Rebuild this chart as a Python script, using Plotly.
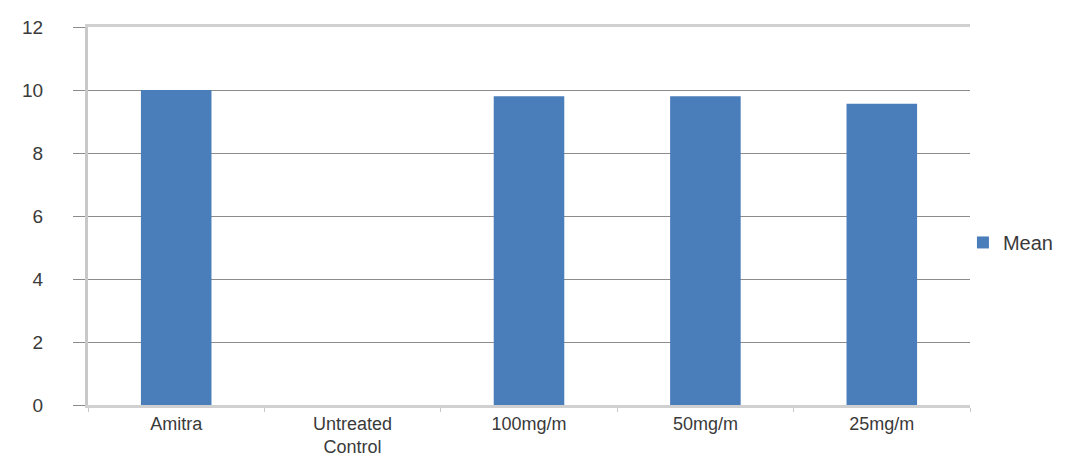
import plotly.graph_objects as go

categories = ["Amitra", "Untreated<br>Control", "100mg/m", "50mg/m", "25mg/m"]
mean_values = [10.0, 0.0, 9.8, 9.8, 9.56]
y_ticks = [0, 2, 4, 6, 8, 10, 12]

fig = go.Figure()
fig.add_trace(go.Bar(
    x=categories, y=mean_values, name="Mean",
    marker=dict(color="#4a7ebb", line=dict(width=0)),
    showlegend=True,
))

fig.update_layout(
    width=1078, height=457,
    margin=dict(l=88, r=108, t=27, b=52),
    paper_bgcolor="white", plot_bgcolor="white",
    font=dict(family="Liberation Sans, Arial, sans-serif", size=19, color="#3a3a3a"),
    bargap=0.6,
    showlegend=True,
    legend=dict(x=0.992, y=0.43, xanchor="left", yanchor="middle",
                font=dict(size=20, color="#3a3a3a"), itemwidth=30,
                bgcolor="rgba(0,0,0,0)"),
    xaxis=dict(showline=True, linecolor="#d0d0d0", linewidth=3, mirror=True,
               ticks="outside", tickcolor="#c8c8c8", ticklen=4,
               tickson="boundaries", showgrid=False, automargin=False,
               tickfont=dict(size=18, color="#3a3a3a")),
    yaxis=dict(range=[0, 12], tickvals=y_ticks, showgrid=True,
               gridcolor="#8c8c8c", gridwidth=1,
               showline=True, linecolor="#c8c8c8", linewidth=3,
               ticks="outside", tickcolor="#8c8c8c", ticklen=12,
               ticklabelstandoff=26, automargin=False,
               zeroline=False, tickfont=dict(size=19, color="#3a3a3a")),
)

fig.write_html("out.html", config={"displayModeBar": False},
               post_script="document.body.style.margin='0';document.body.style.overflow='hidden';")
